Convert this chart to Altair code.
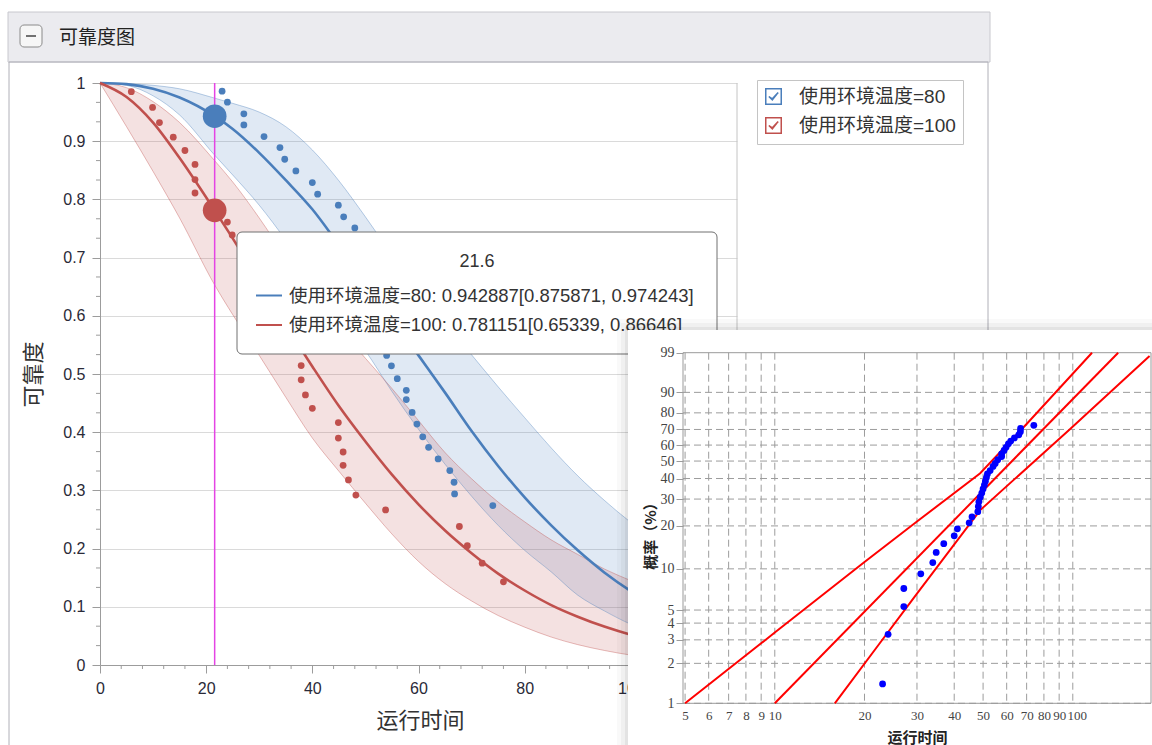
import math
import pandas as pd
import altair as alt

# ---------------- values ----------------
SERIES = ["使用环境温度=80", "使用环境温度=100"]
COLORS = ["#4a7ebb", "#c0504d"]

CURVE_T = [0, 5, 10, 15, 21.6, 25, 30, 35, 40, 45, 50, 55, 60, 65, 70, 75, 80, 85, 90, 95, 100, 105, 110, 115, 120]
BLUE_FIT = [1.0, 0.998, 0.990, 0.975, 0.943, 0.921, 0.880, 0.833, 0.783, 0.722, 0.660, 0.596, 0.532, 0.468, 0.402, 0.342, 0.288, 0.240, 0.197, 0.159, 0.127, 0.100, 0.078, 0.060, 0.046]
BLUE_LOW = [1.0, 0.996, 0.978, 0.945, 0.876, 0.842, 0.790, 0.730, 0.664, 0.600, 0.540, 0.470, 0.405, 0.345, 0.290, 0.240, 0.197, 0.160, 0.120, 0.093, 0.070, 0.053, 0.040, 0.030, 0.022]
BLUE_UP = [1.0, 0.999, 0.996, 0.990, 0.974, 0.965, 0.950, 0.925, 0.885, 0.832, 0.770, 0.705, 0.645, 0.588, 0.533, 0.478, 0.425, 0.373, 0.325, 0.283, 0.245, 0.212, 0.183, 0.157, 0.135]
RED_FIT = [1.0, 0.976, 0.932, 0.871, 0.781, 0.733, 0.658, 0.584, 0.513, 0.445, 0.384, 0.327, 0.276, 0.231, 0.192, 0.157, 0.128, 0.103, 0.083, 0.066, 0.052, 0.041, 0.032, 0.025, 0.019]
RED_LOW = [1.0, 0.925, 0.848, 0.768, 0.653, 0.602, 0.532, 0.460, 0.390, 0.333, 0.278, 0.225, 0.178, 0.140, 0.110, 0.085, 0.065, 0.048, 0.035, 0.025, 0.017, 0.011, 0.007, 0.004, 0.003]
RED_UP = [1.0, 0.992, 0.968, 0.932, 0.8665, 0.830, 0.768, 0.700, 0.632, 0.580, 0.527, 0.475, 0.420, 0.365, 0.320, 0.280, 0.246, 0.215, 0.190, 0.165, 0.145, 0.127, 0.112, 0.098, 0.086]

# failure points of the 80 series: time and failure percentage (same points in both plots)
BLUE_T = [23.0, 24.0, 27.1, 27.1, 30.9, 33.9, 34.8, 36.9, 40.0, 41.0, 44.9, 45.9, 48.0, 48.2, 48.4, 48.9, 49.5, 50.0, 50.5, 50.9,
          51.3, 51.7, 52.8, 54.0, 54.9, 56.0, 57.7, 57.7, 58.8, 59.7, 60.8, 61.9, 63.7, 65.9, 66.7, 66.8, 74.0]
BLUE_F = [1.4, 3.3, 5.3, 7.2, 9.2, 11.1, 13.1, 15.1, 17.1, 19.1, 21.0, 23.0, 24.9, 26.9, 28.8, 30.8, 32.7, 34.7, 36.6, 38.6,
          40.5, 42.5, 44.4, 46.8, 48.6, 50.8, 52.8, 54.4, 56.6, 58.6, 60.8, 62.6, 64.6, 66.6, 68.6, 70.6, 72.6]
# visible points of the 100 series
RED_T = [5.9, 9.9, 11.2, 13.8, 16.0, 17.9, 17.9, 17.9, 24.0, 24.9, 37.9, 37.9, 38.7, 40.0, 44.9, 44.9, 45.8, 45.8, 46.8, 48.2,
         53.8, 67.7, 69.2, 72.0, 76.0]
RED_R = [0.985, 0.958, 0.932, 0.907, 0.884, 0.860, 0.834, 0.811, 0.761, 0.739, 0.5145, 0.490, 0.464, 0.441, 0.4165, 0.390,
         0.366, 0.343, 0.318, 0.292, 0.2665, 0.238, 0.205, 0.175, 0.143]

CURSOR_T = 21.6
CURSOR_R = [0.942887, 0.781151]
CURSOR_LO = [0.875871, 0.65339]
CURSOR_HI = [0.974243, 0.86646]

# inset Weibull probability plot: three red lines (time, failure %)
UPPER_T = [5.0, 10.0, 20.0, 30.0, 48.9, 70.0, 116.0]
UPPER_F = [1.0, 3.4, 11.2, 21.4, 42.9, 73.4, 99.0]
FIT_T = [10.0, 142.0]
FIT_F = [1.0, 99.0]
LOWER_T = [15.9, 22.5, 30.0, 48.9, 98.0, 181.0]
LOWER_F = [1.0, 2.83, 6.6, 25.5, 70.3, 98.7]
INSET_X_TICKS = [5, 6, 7, 8, 9, 10, 20, 30, 40, 50, 60, 70, 80, 90, 100]
INSET_P_TICKS = [1, 2, 3, 4, 5, 10, 20, 30, 40, 50, 60, 70, 80, 90, 99]

X_MAJOR = [0, 20, 40, 60, 80, 100, 120]
Y_MAJOR = [0, 0.1, 0.2, 0.3, 0.4, 0.5, 0.6, 0.7, 0.8, 0.9, 1.0]
X_MINOR = [v for v in range(0, 121, 4) if v % 20]
Y_MINOR = [round(i / 30, 4) for i in range(31) if i % 3]

# ---------------- layout ----------------
OX, OY = 100, 83          # page position of the main plot origin
W, H = 637, 582           # main plot area
AX = "#9c9c9c"
LAT = "Liberation Sans, Noto Sans CJK SC"
CJK = "Noto Sans CJK SC"
SERIF = "Liberation Serif"


def px(x):
    return x - OX


def py(y):
    return y - OY


def wb(p):  # position on Weibull probability paper
    return math.log(-math.log(1 - p / 100.0))


WB_EXPR = "log(-log(1 - datum.f / 100))"
dummy = pd.DataFrame({"k": [0]})


def box(x0, y0, x1, y1, **kw):
    return alt.Chart(dummy).mark_rect(**kw).encode(
        x=alt.value(px(x0)), x2=alt.value(px(x1)), y=alt.value(py(y0)), y2=alt.value(py(y1)))


def seg(x0, y0, x1, y1, **kw):
    return alt.Chart(dummy).mark_rule(**kw).encode(
        x=alt.value(px(x0)), x2=alt.value(px(x1)), y=alt.value(py(y0)), y2=alt.value(py(y1)))


def label(x, y, txt, **kw):
    return alt.Chart(dummy).mark_text(text=txt, **kw).encode(x=alt.value(px(x)), y=alt.value(py(y)))


rows = []
for s, fit, lo, up in [(SERIES[0], BLUE_FIT, BLUE_LOW, BLUE_UP), (SERIES[1], RED_FIT, RED_LOW, RED_UP)]:
    for t, f, l, u in zip(CURVE_T, fit, lo, up):
        rows.append({"series": s, "t": t, "r": f, "lo": l, "hi": u})
curves = pd.DataFrame(rows)

XS = alt.Scale(domain=[0, 120], nice=False, zero=False)
YS = alt.Scale(domain=[0, 1], nice=False)
CS = alt.Scale(domain=SERIES, range=COLORS)

x_axis = alt.Axis(orient="bottom", values=X_MAJOR, format="d", labelFlush=False, labelOverlap=False, grid=False,
                  tickSize=8, tickColor=AX, domainColor=AX, labelFont=LAT, labelFontSize=16, labelColor="#2a2a38",
                  labelPadding=7, title="运行时间", titleFont=CJK, titleFontSize=22, titleFontWeight="normal",
                  titleColor="#333333", titleX=px(420), titleY=720 - 665, titleAlign="center", titleBaseline="middle")
y_axis = alt.Axis(orient="left", values=Y_MAJOR, format="~g", labelOverlap=False, grid=True, gridColor="#dadada",
                  tickSize=8, tickColor=AX, domainColor=AX, labelFont=LAT, labelFontSize=16, labelColor="#2a2a38",
                  labelPadding=7, title="可靠度", titleFont=CJK, titleFontSize=22, titleFontWeight="normal",
                  titleColor="#333333", titleX=px(33), titleY=H / 2, titleAlign="center", titleBaseline="middle")
CHECK = "M-1,-1L1,-1L1,1L-1,1Z M-0.6,0.0L-0.15,0.45L0.6,-0.5L-0.15,0.3Z"
legend = alt.Legend(orient="none", legendX=px(757), legendY=py(80), symbolType=CHECK, symbolSize=240,
                    symbolStrokeWidth=1.5, symbolFillColor="white", symbolOpacity=1, labelFont=LAT,
                    labelFontSize=19, labelColor="#333333", labelOffset=16, rowPadding=6, padding=7,
                    strokeColor="#c4c4c4", fillColor="white")


def X(field="t"):
    return alt.X(f"{field}:Q", scale=XS, axis=x_axis)


def Y(field="r"):
    return alt.Y(f"{field}:Q", scale=YS, axis=y_axis)


C = alt.Color("series:N", scale=CS, title=None, legend=legend)

chrome = [
    box(8, 12, 990, 62, fill="#ebebef", stroke="#c8c8ce", strokeWidth=1),
    box(9, 62, 988, 800, fillOpacity=0, stroke="#b0b0b8", strokeWidth=1),
    box(20, 25, 42, 47, fill="#f6f6f6", stroke="#8a8a8a", strokeWidth=1, cornerRadius=4),
    seg(26, 36, 36, 36, color="#444444", strokeWidth=1.5),
    label(59, 38, "可靠度图", font=CJK, fontSize=19, color="#222222", align="left", baseline="middle"),
]

fits = alt.Chart(curves).mark_line(strokeWidth=2.6, interpolate="monotone").encode(x=X(), y=Y(), color=C)
bands = [
    alt.Chart(curves).transform_filter(alt.datum.series == s).mark_area(
        color=c, opacity=0.17, interpolate="monotone").encode(x=X(), y=Y("lo"), y2="hi:Q")
    for s, c in zip(SERIES, COLORS)
]
edge_lo = alt.Chart(curves).mark_line(strokeWidth=1, opacity=0.38, interpolate="monotone").encode(
    x=X(), y=Y("lo"), color=C)
edge_hi = alt.Chart(curves).mark_line(strokeWidth=1, opacity=0.38, interpolate="monotone").encode(
    x=X(), y=Y("hi"), color=C)

x_minor = alt.Chart(pd.DataFrame({"t": X_MINOR})).mark_rule(color=AX).encode(
    x=X(), y=alt.value(H), y2=alt.value(H + 4))
y_minor = alt.Chart(pd.DataFrame({"r": Y_MINOR})).mark_rule(color=AX).encode(
    y=Y(), x=alt.value(0), x2=alt.value(-4))
right_border = alt.Chart(dummy).mark_rule(color="#c4c4c4").encode(
    x=alt.value(W), y=alt.value(0), y2=alt.value(H))

blue_pts = alt.Chart(pd.DataFrame({"t": BLUE_T, "f": BLUE_F})).transform_calculate(
    r="1 - datum.f / 100").mark_circle(size=46, opacity=1, color=COLORS[0]).encode(x=X(), y=Y())
red_pts = alt.Chart(pd.DataFrame({"t": RED_T, "r": RED_R})).mark_circle(
    size=46, opacity=1, color=COLORS[1]).encode(x=X(), y=Y())

cursor_rule = alt.Chart(pd.DataFrame({"t": [CURSOR_T]})).mark_rule(color="#e444e4", strokeWidth=1.5).encode(
    x=X(), y=alt.value(0), y2=alt.value(H))
cursor_dots = [
    alt.Chart(pd.DataFrame({"t": [CURSOR_T], "r": [r]})).mark_circle(size=560, opacity=1, color=c).encode(
        x=X(), y=Y())
    for r, c in zip(CURSOR_R, COLORS)
]

line1 = f"{SERIES[0]}: {CURSOR_R[0]}[{CURSOR_LO[0]}, {CURSOR_HI[0]}]"
line2 = f"{SERIES[1]}: {CURSOR_R[1]}[{CURSOR_LO[1]}, {CURSOR_HI[1]}]"
tip = [
    box(237, 232, 717, 354, fill="white", stroke="#707070", strokeWidth=1, cornerRadius=5),
    label(477, 262, f"{CURSOR_T}", font=LAT, fontSize=18, color="#333333", align="center", baseline="middle"),
    seg(256, 295.5, 282, 295.5, color=COLORS[0], strokeWidth=2),
    label(289, 295.5, line1, font=LAT, fontSize=18.5, color="#333333", align="left", baseline="middle"),
    seg(256, 325, 282, 325, color=COLORS[1], strokeWidth=2),
    label(289, 325, line2, font=LAT, fontSize=18.5, color="#333333", align="left", baseline="middle"),
]

main = alt.layer(*chrome, *bands, edge_lo, edge_hi, fits, x_minor, y_minor, right_border,
                 red_pts, blue_pts, cursor_rule, *cursor_dots, *tip)

# ---------------- inset ----------------
I_LEFT, I_RIGHT, I_TOP, I_BOTTOM = 683, 1151, 352.7, 703.3
ISX = alt.Scale(type="log", domain=[4.92, 183], range=[px(I_LEFT), px(I_RIGHT)], nice=False)
ISY = alt.Scale(domain=[wb(1), wb(99)], range=[py(I_BOTTOM), py(I_TOP)], nice=False, zero=False)

inset_x_axis = alt.Axis(orient="bottom", offset=py(I_BOTTOM) - H, values=INSET_X_TICKS, format="d",
                        labelOverlap=False, labelFlush=False, labelFont=SERIF, labelFontSize=13, labelColor="#444444",
                        labelOffset={"condition": {"test": "datum.value == 100", "value": 4}, "value": 0},
                        ticks=False, labelPadding=6, domain=False, grid=False, title="运行时间", titleFont=CJK,
                        titleFontSize=15, titleFontWeight="bold", titleColor="#222222", titleX=px(917),
                        titleY=737 - I_BOTTOM, titleAlign="center", titleBaseline="middle", zindex=1)
inset_y_axis = alt.Axis(orient="left", offset=-px(I_LEFT), values=[wb(p) for p in INSET_P_TICKS],
                        labelExpr="format(100 * (1 - exp(-exp(datum.value))), '.0f')", labelOverlap=False,
                        labelFont=SERIF, labelFontSize=14, labelColor="#444444", tickSize=7, tickColor=AX,
                        labelPadding=2, domain=False, grid=False, title="概率（%）", titleFont=CJK, titleFontSize=15,
                        titleFontWeight="bold", titleColor="#222222", titleX=650 - I_LEFT, titleY=py(532),
                        titleAngle=270, titleAlign="center", titleBaseline="middle", zindex=1)
IX = alt.X("t:Q", scale=ISX, axis=inset_x_axis)
IY = alt.Y("iy:Q", scale=ISY, axis=inset_y_axis)

inset_bg = [
    box(617, 319, 1152, 745, fill="#000000", opacity=0.025),
    box(621, 323, 1152, 745, fill="#000000", opacity=0.035),
    box(625, 327, 1152, 745, fill="#000000", opacity=0.05),
    box(628, 330, 1152, 745, fill="white"),
]
vgrid = alt.Chart(pd.DataFrame({"t": INSET_X_TICKS})).mark_rule(color="#9c9c9c", strokeDash=[7, 4]).encode(
    x=IX, y=alt.value(py(I_TOP)), y2=alt.value(py(I_BOTTOM)))
hgrid = alt.Chart(pd.DataFrame({"f": INSET_P_TICKS[:-1]})).transform_calculate(iy=WB_EXPR).mark_rule(
    color="#9c9c9c", strokeDash=[7, 4]).encode(y=IY, x=alt.value(px(I_LEFT)), x2=alt.value(px(I_RIGHT)))
frame = box(I_LEFT, I_TOP, I_RIGHT, I_BOTTOM, fillOpacity=0, stroke="#9a9a9a", strokeWidth=1)

line_rows = []
for name, ts, fs in [("upper", UPPER_T, UPPER_F), ("fit", FIT_T, FIT_F), ("lower", LOWER_T, LOWER_F)]:
    for t, f in zip(ts, fs):
        line_rows.append({"line": name, "t": t, "f": f})
red_lines = alt.Chart(pd.DataFrame(line_rows)).transform_calculate(iy=WB_EXPR).mark_line(
    color="#ff0000", strokeWidth=2).encode(x=IX, y=IY, detail="line:N")
inset_pts = alt.Chart(pd.DataFrame({"t": BLUE_T, "f": BLUE_F})).transform_calculate(iy=WB_EXPR).mark_circle(
    size=46, opacity=1, color="#0000ff").encode(x=IX, y=IY)

inset = alt.layer(*inset_bg, vgrid, hgrid, frame, red_lines, inset_pts)

chart = alt.layer(main, inset).resolve_scale(x="independent", y="independent").properties(
    width=W, height=H,
    padding={"left": OX, "top": OY, "right": 1152 - OX - W, "bottom": 745 - OY - H},
    autosize=alt.AutoSizeParams(type="none"),
).configure(background="white").configure_view(stroke="transparent")

chart.save("out.html", embed_options={"renderer": "svg", "actions": False})
